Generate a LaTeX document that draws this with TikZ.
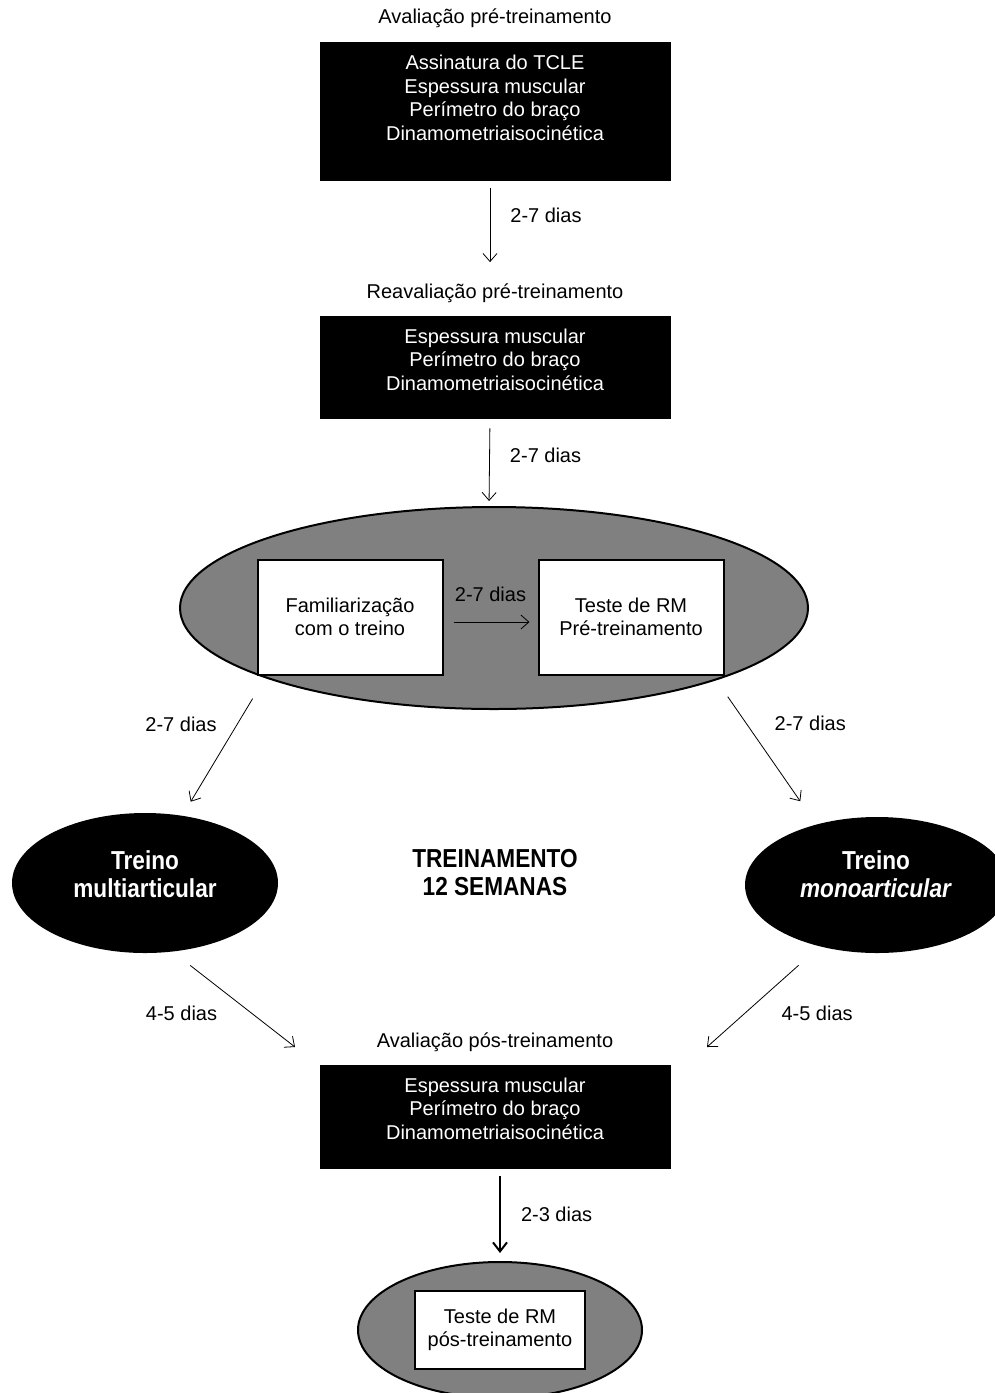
\documentclass[tikz,border=0pt]{standalone}
\usepackage{fontspec}
\setmainfont{Liberation Sans}
\newfontfamily\narrowfont[FakeStretch=0.87]{Liberation Sans}
\usetikzlibrary{arrows.meta,positioning,shapes.geometric}

\begin{document}
\begin{tikzpicture}[x=0.5pt, y=-0.5pt,
  every node/.style={font=\fontsize{10}{11.75}\selectfont},
  blk/.style={fill=black, draw=black, minimum width=175pt, inner sep=0pt},
  wtxt/.style={text=white, align=center, inner sep=0pt},
  ttl/.style={inner sep=0pt, text height=8pt, text depth=2.5pt},
  oval/.style={ellipse, draw=black, line width=1pt, fill=black!50, inner sep=0pt},
  dark/.style={ellipse, fill=black, inner sep=0pt},
  big/.style={align=center, inner sep=0pt,
    font=\narrowfont\fontsize{13}{14}\selectfont\bfseries},
  wbox/.style={draw=black, line width=1pt, fill=white, align=center, inner sep=0pt},
  lbl/.style={inner sep=0pt},
  arr/.style={-{Straight Barb[length=4pt, width=7pt]}, line width=0.4pt},
  bigarr/.style={-{Straight Barb[length=4.5pt, width=7pt]}, line width=1pt}
]
\useasboundingbox (0,0) rectangle (995,1393);
\node[ttl] (preTitle) at (495,18) {Avaliação pré-treinamento};
\node[blk, minimum height=69pt] (preBox) at (495,111) {};
\node[wtxt] (preTxt) at (495,98) {Assinatura do TCLE\\Espessura muscular\\
  Perímetro do braço\\Dinamometriaisocinética};
\node[ttl] (reTitle) at (495,293) {Reavaliação pré-treinamento};
\node[blk, minimum height=51pt] (reBox) at (495,367) {};
\node[wtxt] (reTxt) at (495,359.5) {Espessura muscular\\Perímetro do braço\\
  Dinamometriaisocinética};
\node[oval, minimum width=314pt, minimum height=101pt] (famOval) at (494,608) {};
\node[wbox, minimum width=92.5pt, minimum height=57.5pt] (famBox) at (350,617)
  {Familiarização\\com o treino};
\node[wbox, minimum width=92.5pt, minimum height=57.5pt] (rmPreBox) at (631,617)
  {Teste de RM\\Pré-treinamento};
\node[dark, minimum width=133pt, minimum height=70pt] (multiOval) at (145,883) {};
\node[big, text=white] (multiTxt) at (145,874) {Treino\\multiarticular};
\node[dark, minimum width=132pt, minimum height=68pt] (monoOval) at (877,885) {};
\node[big, text=white] (monoTxt) at (876,874) {Treino\\\textit{monoarticular}};
\node[big] (trainTxt) at (495,873) {TREINAMENTO\\12 SEMANAS};
\node[ttl] (postTitle) at (495,1042) {Avaliação pós-treinamento};
\node[blk, minimum height=51.5pt] (postBox) at (495,1116.5) {};
\node[wtxt] (postTxt) at (495,1108.5) {Espessura muscular\\Perímetro do braço\\
  Dinamometriaisocinética};
\node[oval, minimum width=142pt, minimum height=68pt] (rmOval) at (500,1330) {};
\node[wbox, minimum width=85pt, minimum height=39pt] (rmPostBox) at (500,1330)
  {Teste de RM\\pós-treinamento};
\coordinate (postL) at (295,1047);
\coordinate (postR) at (707,1047);
\draw[arr, shorten <=4pt, shorten >=10pt] ([xshift=-2.5pt]preBox.south)
  -- ([xshift=-2.5pt]reTitle.north) node[lbl, pos=0.34, right=10pt] {2-7 dias};
\draw[arr, shorten <=5pt, shorten >=2.5pt] ([xshift=-2.5pt]reBox.south)
  -- ([xshift=-2.5pt]famOval.north) node[lbl, pos=0.42, right=10pt] {2-7 dias};
\draw[arr, shorten <=5pt, shorten >=4pt] ([yshift=-2.5pt]famBox.east)
  -- ([yshift=-2.5pt]rmPreBox.west) node[lbl, midway, above=10pt] {2-7 dias};
\draw[arr, shorten <=12pt, shorten >=8pt] (famOval.197) -- (multiOval.61.7)
  node[lbl, pos=0.339, left=10pt] {2-7 dias};
\draw[arr, shorten <=10pt, shorten >=14pt] (famOval.342) -- (monoOval.135)
  node[lbl, pos=0.3, right=14pt] {2-7 dias};
\draw[arr, shorten <=11pt] (multiOval.292) -- (postL)
  node[lbl, pos=0.644, left=17pt] {4-5 dias};
\draw[arr, shorten <=14pt] (monoOval.227.7) -- (postR)
  node[lbl, pos=0.661, right=18pt] {4-5 dias};
\draw[bigarr, shorten <=4pt, shorten >=4pt] (postBox.south -| rmOval.north)
  -- (rmOval.north) node[lbl, midway, right=10pt] {2-3 dias};
\end{tikzpicture}
\end{document}
